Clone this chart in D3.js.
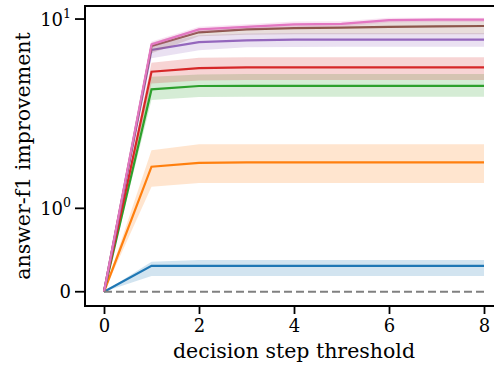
<!DOCTYPE html>
<meta charset="utf-8">
<script src="https://d3js.org/d3.v7.min.js"></script>
<style>
  body { margin: 0; background: #fff; }
  svg text { font-family: "DejaVu Serif"; }
</style>
<div id="chart"></div>
<script>

// decision step thresholds (x)
var steps = [0, 1, 2, 3, 4, 5, 6, 7, 8];

// mean answer-f1 improvement per series, with lower / upper band
var blueMean   = [0, 0.31, 0.31, 0.31, 0.31, 0.31, 0.31, 0.31, 0.31];
var blueLo     = [0, 0.19, 0.19, 0.19, 0.19, 0.19, 0.19, 0.19, 0.19];
var blueHi     = [0, 0.36, 0.38, 0.38, 0.38, 0.38, 0.38, 0.38, 0.38];

var orangeMean = [0, 1.66, 1.74, 1.75, 1.75, 1.75, 1.75, 1.75, 1.75];
var orangeLo   = [0, 1.30, 1.36, 1.36, 1.36, 1.36, 1.36, 1.36, 1.36];
var orangeHi   = [0, 2.03, 2.18, 2.18, 2.18, 2.18, 2.18, 2.18, 2.18];

var greenMean  = [0, 4.25, 4.43, 4.44, 4.44, 4.44, 4.44, 4.44, 4.44];
var greenLo    = [0, 3.73, 3.88, 3.89, 3.89, 3.89, 3.89, 3.89, 3.89];
var greenHi    = [0, 4.95, 5.10, 5.12, 5.12, 5.12, 5.12, 5.12, 5.12];

var redMean    = [0, 5.27, 5.51, 5.56, 5.56, 5.56, 5.56, 5.56, 5.56];
var redLo      = [0, 4.57, 4.74, 4.76, 4.76, 4.76, 4.76, 4.76, 4.76];
var redHi      = [0, 5.88, 6.25, 6.28, 6.28, 6.28, 6.28, 6.28, 6.28];

var purpleMean = [0, 6.86, 7.56, 7.72, 7.78, 7.78, 7.78, 7.78, 7.78];
var purpleLo   = [0, 6.20, 6.85, 7.10, 7.12, 7.13, 7.13, 7.13, 7.13];
var purpleHi   = [0, 7.30, 8.20, 8.40, 8.43, 8.43, 8.43, 8.43, 8.43];

var brownMean  = [0, 7.20, 8.51, 8.82, 8.96, 9.00, 9.10, 9.15, 9.19];
var brownLo    = [0, 6.60, 8.10, 8.25, 8.30, 8.30, 8.30, 8.30, 8.30];
var brownHi    = [0, 7.50, 8.90, 9.20, 9.40, 9.45, 9.85, 9.90, 9.95];

var pinkMean   = [0, 7.35, 8.82, 9.10, 9.38, 9.43, 9.88, 9.93, 9.93];
var pinkLo     = [0, 7.05, 8.50, 8.80, 9.05, 9.10, 9.60, 9.64, 9.64];
var pinkHi     = [0, 7.60, 9.10, 9.40, 9.70, 9.75, 10.15, 10.15, 10.15];

var xTicks = [0, 2, 4, 6, 8];
var yTicks = [0, 1, 10];
var yTickLabels = [["0", ""], ["10", "0"], ["10", "1"]];

var series = [
  {color: "#1f77b4", mean: blueMean,   lo: blueLo,   hi: blueHi},
  {color: "#ff7f0e", mean: orangeMean, lo: orangeLo, hi: orangeHi},
  {color: "#2ca02c", mean: greenMean,  lo: greenLo,  hi: greenHi},
  {color: "#d62728", mean: redMean,    lo: redLo,    hi: redHi},
  {color: "#9467bd", mean: purpleMean, lo: purpleLo, hi: purpleHi},
  {color: "#8c564b", mean: brownMean,  lo: brownLo,  hi: brownHi},
  {color: "#e377c2", mean: pinkMean,   lo: pinkLo,   hi: pinkHi}
];

var margin = {top: 6, left: 85},
    width = 418,
    height = 300,
    fs = 18,      // tick labels
    lfs = 20.5;   // axis labels

var svg = d3.select("#chart")
  .append("svg")
    .attr("width", 494)
    .attr("height", 367)
  .append("g")
    .attr("transform", "translate(" + margin.left + "," + margin.top + ")");

// x axis: linear with 5% margins
var x = d3.scaleLinear()
  .domain([-0.4, 8.4])
  .range([0, width]);

// y axis: symmetric log (linear below 1, log above)
var linScale = 0.4406;
function symT(v) { return v <= 1 ? v * linScale : linScale + Math.log10(v); }
var yLin = d3.scaleLinear()
  .domain([symT(-0.171), symT(11.72)])
  .range([height, 0]);
function y(v) { return yLin(symT(v)); }

// bands and lines
series.forEach(function(s) {
  var pts = steps.map(function(d, i) { return {x: d, m: s.mean[i], lo: s.lo[i], hi: s.hi[i]}; });
  svg.append("path")
    .datum(pts)
    .attr("fill", s.color)
    .attr("fill-opacity", 0.2)
    .attr("d", d3.area()
      .x(function(d) { return x(d.x); })
      .y0(function(d) { return y(d.lo); })
      .y1(function(d) { return y(d.hi); }));
  svg.append("path")
    .datum(pts)
    .attr("fill", "none")
    .attr("stroke", s.color)
    .attr("stroke-width", 2.2)
    .attr("d", d3.line()
      .x(function(d) { return x(d.x); })
      .y(function(d) { return y(d.m); }));
});

// zero reference line
svg.append("line")
  .attr("x1", x(0)).attr("x2", x(8))
  .attr("y1", y(0)).attr("y2", y(0))
  .attr("stroke", "#808080")
  .attr("stroke-width", 2.2)
  .attr("stroke-dasharray", "8,4");

// spines
svg.append("rect")
  .attr("x", 0).attr("y", 0).attr("width", width).attr("height", height)
  .attr("fill", "none").attr("stroke", "#000").attr("stroke-width", 2);

// x ticks
var xg = svg.append("g").attr("transform", "translate(0," + height + ")")
  .call(d3.axisBottom(x).tickValues(xTicks).tickSize(8).tickPadding(5).tickFormat(d3.format("d")));
xg.attr("font-family", null).attr("font-size", null);
xg.select(".domain").remove();
xg.selectAll(".tick line").attr("stroke", "#000").attr("stroke-width", 1.8);
xg.selectAll(".tick text").style("font-family", "DejaVu Serif").style("font-size", fs + "px").attr("fill", "#000");

// y ticks (mathtext-style labels)
var yg = svg.append("g");
yTicks.forEach(function(v, i) {
  var py = y(v);
  yg.append("line").attr("x1", -10).attr("x2", 0).attr("y1", py).attr("y2", py)
    .attr("stroke", "#000").attr("stroke-width", 1.8);
  var t = yg.append("text")
    .attr("x", -14)
    .attr("y", py + 6.5)
    .attr("text-anchor", "end")
    .style("font-size", fs + "px")
    .attr("fill", "#000");
  t.append("tspan").text(yTickLabels[i][0]);
  if (yTickLabels[i][1]) {
    t.append("tspan").attr("dy", -7.5).style("font-size", "12.5px").text(yTickLabels[i][1]);
  }
});

// axis labels
svg.append("text")
  .attr("x", x(4))
  .attr("y", 352)
  .attr("text-anchor", "middle")
  .style("font-size", lfs + "px")
  .text("decision step threshold");

svg.append("text")
  .attr("transform", "translate(" + (29.5 - margin.left) + "," + (height / 2) + ") rotate(-90)")
  .attr("text-anchor", "middle")
  .style("font-size", lfs + "px")
  .text("answer-f1 improvement");

</script>
